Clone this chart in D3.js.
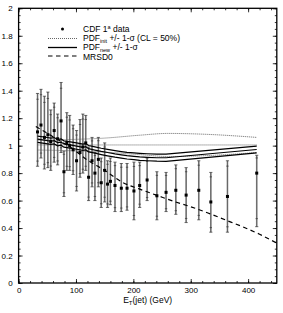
<!DOCTYPE html>
<meta charset="utf-8">
<head>
  <title>Jet cross section ratio</title>
</head>

<style>
body {
  margin: 0;
  background: #fff;
}
svg text {
  font-family: "Liberation Sans", Arial, Helvetica, sans-serif;
  fill: #000;
}
</style>

<body>
  <div id="content"></div>

  <script src="https://cdnjs.cloudflare.com/ajax/libs/d3/7.8.5/d3.min.js"></script>

  <script>
// CDF 1a data points: E_T, ratio, lower and upper end of the error bar
var etData  = [33, 39, 45, 51, 56, 62, 68, 74, 79, 84, 89, 95, 101, 107, 112, 117, 122, 128, 133, 139,
               144, 150, 155, 160, 168, 179, 189, 201, 211, 224, 241, 257, 274, 292, 314, 335, 364, 415];
var ratio   = [1.10, 1.15, 1.06, 1.08, 1.03, 1.11, 1.05, 1.18, 0.81, 1.02, 1.00, 0.97, 0.89, 0.95, 0.99, 1.02, 0.77, 0.89, 0.80, 0.90,
               0.73, 0.82, 0.72, 0.74, 0.71, 0.69, 0.69, 0.67, 0.71, 0.75, 0.635, 0.66, 0.675, 0.64, 0.675, 0.59, 0.63, 0.80];
var errLow  = [0.85, 0.91, 0.83, 0.84, 0.82, 0.88, 0.86, 0.95, 0.63, 0.82, 0.82, 0.79, 0.67, 0.77, 0.80, 0.82, 0.60, 0.70, 0.60, 0.70,
               0.55, 0.59, 0.55, 0.57, 0.52, 0.52, 0.53, 0.46, 0.55, 0.60, 0.46, 0.52, 0.50, 0.44, 0.46, 0.37, 0.37, 0.41];
var errHigh = [1.38, 1.41, 1.36, 1.39, 1.26, 1.31, 1.23, 1.46, 0.96, 1.24, 1.22, 1.15, 1.11, 1.19, 1.23, 1.22, 0.99, 1.06, 0.95, 1.06,
               0.91, 1.02, 0.89, 0.91, 0.88, 0.87, 0.87, 0.88, 0.88, 0.91, 0.81, 0.805, 0.86, 0.84, 0.89, 0.805, 0.89, 0.93];

// PDF_new central value and +/- 1 sigma
var newX   = [33, 45, 56, 62, 68, 74, 79, 90, 101, 112, 117, 122, 133, 144, 155, 168, 179, 189, 201, 211, 224, 241, 257, 415];
var newMid = [1.047, 1.040, 1.032, 1.036, 1.022, 1.026, 1.012, 1.005, 0.997, 0.988, 0.992, 0.978, 0.968, 0.958, 0.950, 0.940,
              0.933, 0.927, 0.922, 0.918, 0.915, 0.912, 0.912, 0.972];
var newUp  = [1.069, 1.063, 1.055, 1.059, 1.045, 1.049, 1.035, 1.028, 1.020, 1.011, 1.015, 1.001, 0.991, 0.981, 0.973, 0.964,
              0.957, 0.951, 0.947, 0.944, 0.941, 0.938, 0.938, 0.997];
var newLo  = [1.024, 1.017, 1.009, 1.013, 0.999, 1.003, 0.989, 0.982, 0.974, 0.965, 0.969, 0.955, 0.945, 0.935, 0.926, 0.916,
              0.909, 0.903, 0.898, 0.893, 0.890, 0.887, 0.886, 0.947];

// PDF_init central value and +/- 1 sigma
var initX   = [33, 100, 150, 211, 260, 330, 415];
var initMid = [1.005, 1.005, 1.005, 1.005, 1.005, 1.005, 1.005];
var initUp  = [1.040, 1.046, 1.055, 1.076, 1.089, 1.082, 1.060];
var initLo  = [0.968, 0.962, 0.953, 0.935, 0.921, 0.928, 0.950];

// MRSD0 prediction
var mrsX = [30, 60, 90, 120, 150, 180, 210, 240, 270, 300, 330, 360, 390, 420, 450];
var mrsY = [1.14, 1.065, 0.99, 0.895, 0.82, 0.735, 0.685, 0.64, 0.595, 0.555, 0.51, 0.46, 0.41, 0.355, 0.29];

var xTicks = [0, 100, 200, 300, 400];
var yTicks = [0, 0.2, 0.4, 0.6, 0.8, 1, 1.2, 1.4, 1.6, 1.8, 2];

var width = 283, height = 313;
var padL = 18.6, padR = 276.8, padT = 8.3, padB = 283;

var svg = d3.select('#content').append('svg')
  .attr('width', width)
  .attr('height', height);

svg.append('rect').attr('width', width).attr('height', height).attr('fill', '#fff');

var x = d3.scaleLinear().domain([0, 450]).range([padL, padR]);
var y = d3.scaleLinear().domain([0, 2]).range([padB, padT]);

// ticks, all pointing inwards
function ticksOnly(g) {
  g.select('.domain').remove();
  g.selectAll('line').attr('stroke', '#000').attr('stroke-width', 0.8);
}

svg.append('g').attr('transform', 'translate(0,' + padB + ')')
  .call(d3.axisBottom(x).tickValues(d3.range(0, 451, 20)).tickSize(-2).tickFormat(''))
  .call(ticksOnly);
svg.append('g').attr('transform', 'translate(0,' + padB + ')')
  .call(d3.axisBottom(x).tickValues(xTicks).tickSize(-4).tickPadding(4).tickFormat(d3.format('d')))
  .call(ticksOnly)
  .selectAll('text').attr('font-size', 8);
svg.append('g').attr('transform', 'translate(0,' + padT + ')')
  .call(d3.axisTop(x).tickValues(d3.range(0, 451, 20)).tickSize(-2).tickFormat(''))
  .call(ticksOnly);
svg.append('g').attr('transform', 'translate(0,' + padT + ')')
  .call(d3.axisTop(x).tickValues(xTicks).tickSize(-4).tickFormat(''))
  .call(ticksOnly);

svg.append('g').attr('transform', 'translate(' + padL + ',0)')
  .call(d3.axisLeft(y).tickValues(d3.range(0, 2.001, 0.05)).tickSize(-2).tickFormat(''))
  .call(ticksOnly);
svg.append('g').attr('transform', 'translate(' + padL + ',0)')
  .call(d3.axisLeft(y).tickValues(yTicks).tickSize(-4).tickPadding(6).tickFormat(d3.format('')))
  .call(ticksOnly)
  .selectAll('text').attr('font-size', 8);
svg.append('g').attr('transform', 'translate(' + padR + ',0)')
  .call(d3.axisRight(y).tickValues(d3.range(0, 2.001, 0.05)).tickSize(-2).tickFormat(''))
  .call(ticksOnly);
svg.append('g').attr('transform', 'translate(' + padR + ',0)')
  .call(d3.axisRight(y).tickValues(yTicks).tickSize(-4).tickFormat(''))
  .call(ticksOnly);

// frame
svg.append('rect')
  .attr('x', padL).attr('y', padT)
  .attr('width', padR - padL).attr('height', padB - padT)
  .attr('fill', 'none').attr('stroke', '#000').attr('stroke-width', 1.3);

// x axis title
var xt = svg.append('text')
  .attr('x', x(225)).attr('y', 303)
  .attr('text-anchor', 'middle')
  .attr('font-size', 8.5);
xt.append('tspan').text('E');
xt.append('tspan').attr('font-size', 6).attr('baseline-shift', '-25%').text('T');
xt.append('tspan').text('(jet) (GeV)');

var plot = svg.append('g');

// error bars
etData.forEach(function(e, i) {
  var cx = x(e);
  var g = plot.append('g');
  g.append('line')
    .attr('x1', cx).attr('x2', cx)
    .attr('y1', y(errLow[i])).attr('y2', y(errHigh[i]))
    .attr('stroke', '#8a8a8a').attr('stroke-width', 1.6);
  g.append('line')
    .attr('x1', cx).attr('x2', cx)
    .attr('y1', y(errLow[i])).attr('y2', y(errHigh[i]))
    .attr('stroke', '#444').attr('stroke-width', 0.5);
  var inLo = ratio[i] - (ratio[i] - errLow[i]) * 0.85;
  var inHi = ratio[i] + (errHigh[i] - ratio[i]) * 0.85;
  [errLow[i], errHigh[i], inLo, inHi].forEach(function(v, k) {
    g.append('line')
      .attr('x1', cx - (k < 2 ? 1.6 : 1.2)).attr('x2', cx + (k < 2 ? 1.6 : 1.2))
      .attr('y1', y(v)).attr('y2', y(v))
      .attr('stroke', '#333').attr('stroke-width', 0.7);
  });
});

// PDF_init dotted band
var initLine = d3.line().x(function(d) { return x(d[0]); }).y(function(d) { return y(d[1]); })
  .curve(d3.curveMonotoneX);
[initUp, initMid, initLo].forEach(function(arr) {
  plot.append('path')
    .datum(initX.map(function(v, i) { return [v, arr[i]]; }))
    .attr('d', initLine)
    .attr('fill', 'none')
    .attr('stroke', '#555')
    .attr('stroke-width', 0.9)
    .attr('stroke-dasharray', '1,1');
});

// PDF_new solid band
var straight = d3.line().x(function(d) { return x(d[0]); }).y(function(d) { return y(d[1]); });
[newUp, newMid, newLo].forEach(function(arr) {
  plot.append('path')
    .datum(newX.map(function(v, i) { return [v, arr[i]]; }))
    .attr('d', straight)
    .attr('fill', 'none')
    .attr('stroke', '#000')
    .attr('stroke-width', 1.2);
});

// MRSD0 dashed
plot.append('path')
  .datum(mrsX.map(function(v, i) { return [v, mrsY[i]]; }))
  .attr('d', straight.curve(d3.curveMonotoneX))
  .attr('fill', 'none')
  .attr('stroke', '#000')
  .attr('stroke-width', 1.2)
  .attr('stroke-dasharray', '4.5,3.5');

// data points
plot.selectAll('rect.pt')
  .data(etData)
  .enter().append('rect')
  .attr('class', 'pt')
  .attr('x', function(d) { return x(d) - 1.5; })
  .attr('y', function(d, i) { return y(ratio[i]) - 1.5; })
  .attr('width', 3).attr('height', 3)
  .attr('fill', '#000');

// legend
var lg = svg.append('g').attr('font-size', 8.5);
var lx0 = 48, lx1 = 77, tx = 83;

lg.append('circle').attr('cx', (lx0 + lx1) / 2).attr('cy', 29).attr('r', 1.5).attr('fill', '#000');
var t1 = lg.append('text').attr('x', tx).attr('y', 32);
t1.append('tspan').text('CDF 1');
t1.append('tspan').attr('font-size', 5.5).attr('dy', -3).text('a');
t1.append('tspan').attr('dy', 3).text(' data');

lg.append('line').attr('x1', lx0).attr('x2', lx1).attr('y1', 38.5).attr('y2', 38.5)
  .attr('stroke', '#555').attr('stroke-width', 0.9).attr('stroke-dasharray', '1,1');
var t2 = lg.append('text').attr('x', tx).attr('y', 41);
t2.append('tspan').text('PDF');
t2.append('tspan').attr('font-size', 5.5).attr('dy', 1.5).text('init');
t2.append('tspan').attr('dy', -1.5).text('  +/- 1-\u03c3 (CL = 50%)');

lg.append('line').attr('x1', lx0).attr('x2', lx1).attr('y1', 47.5).attr('y2', 47.5)
  .attr('stroke', '#000').attr('stroke-width', 1.3);
var t3 = lg.append('text').attr('x', tx).attr('y', 50);
t3.append('tspan').text('PDF');
t3.append('tspan').attr('font-size', 5.5).attr('dy', 1.5).text('new');
t3.append('tspan').attr('dy', -1.5).text(' +/- 1-\u03c3');

lg.append('line').attr('x1', lx0).attr('x2', lx1).attr('y1', 56).attr('y2', 56)
  .attr('stroke', '#000').attr('stroke-width', 1.2).attr('stroke-dasharray', '4.5,3.5');
lg.append('text').attr('x', tx).attr('y', 59.5).text('MRSD0');
  </script>
</body>
</html>
